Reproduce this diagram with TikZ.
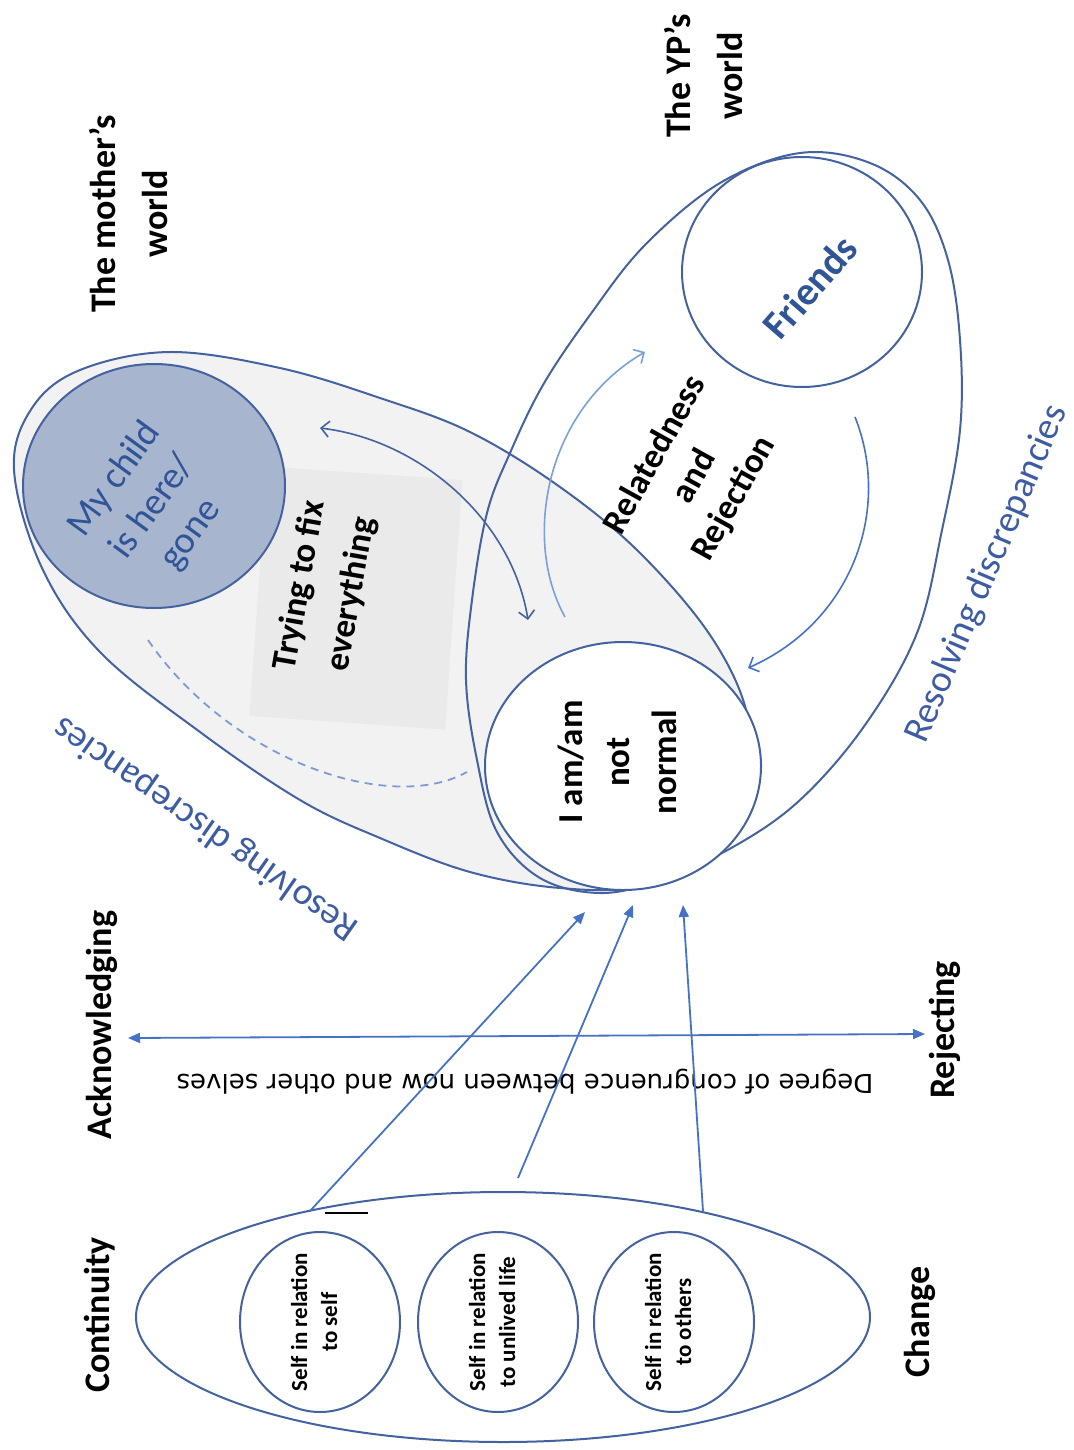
\documentclass[tikz,border=0pt]{standalone}
\usepackage{fontspec}
\setmainfont{Carlito}
\newfontfamily\dejavu{DejaVu Sans}
\usetikzlibrary{arrows.meta}
\definecolor{olc}{RGB}{68,98,160}
\definecolor{mfill}{RGB}{242,242,242}
\definecolor{boxfill}{RGB}{234,234,234}
\definecolor{childfill}{RGB}{168,181,206}
\definecolor{tblue}{RGB}{47,85,151}
\definecolor{rblue}{RGB}{61,92,164}
\definecolor{ablue}{RGB}{68,114,196}
\definecolor{lblue}{RGB}{120,160,220}
\definecolor{dblue}{RGB}{125,155,210}
\begin{document}
\begin{tikzpicture}[x=0.5pt,y=-0.5pt,
  outl/.style={draw=olc,line width=1pt},
  blbl/.style={font=\bfseries\fontsize{18}{26}\selectfont,align=center,inner sep=0pt,rotate=90},
  inlbl/.style={font=\bfseries\fontsize{17.5}{23.5}\selectfont,align=center,inner sep=0pt},
  selflbl/.style={font=\bfseries\fontsize{11.5}{15}\selectfont,align=center,inner sep=0pt,rotate=90},
  resolv/.style={font=\fontsize{19}{23}\selectfont,text=rblue,inner sep=0pt},
  barb/.style={draw=olc,line width=0.8pt},
  tri/.style={draw=ablue,line width=0.9pt},
  tip/.tip={Triangle[length=6pt,width=5pt]},
  vtip/.tip={Straight Barb[length=4pt,width=8pt]}]
\useasboundingbox (0,0) rectangle (1074,1450);

% ---------- the mother's world ----------
\draw[outl,fill=mfill] plot[smooth cycle,tension=0.6] coordinates {
 (14,470) (32,408) (80,370) (170,352) (280,368) (380,398) (470,432)
 (560,487) (640,553) (712,638) (748,718) (745,795) (705,850) (640,886)
 (560,888) (470,872) (380,838) (300,800) (200,732) (100,652) (42,568)};

\node[fill=boxfill,minimum width=125pt,minimum height=98pt,rotate=86,inner sep=0pt] (tbox) at (356,598) {};

% ---------- the YP's world ----------
\draw[outl] plot[smooth cycle,tension=0.6] coordinates {
 (800,153) (870,163) (920,200) (948,260) (960,340) (960,430) (942,530)
 (917,633) (865,725) (800,800) (733,847) (660,880) (600,893) (540,878)
 (497,832) (477,760) (466,680) (472,600) (487,513) (510,453) (543,385)
 (590,315) (645,245) (720,183)};

% ---------- circles ----------
\draw[outl,fill=childfill] (154,486) ellipse [x radius=131, y radius=122];
\draw[outl,fill=white] (802,272) ellipse [x radius=120, y radius=115];
\draw[outl,fill=white] (623,766) ellipse [x radius=138, y radius=124];

% ---------- texts ----------
\node[blbl] (mw) at (129,214) {The mother’s\\world};
\node[blbl] (yw) at (704,76) {The YP’s\\world};
\node[blbl] (ack) at (102,1025) {Acknowledging};
\node[blbl] (rej) at (945,1030) {Rejecting};
\node[blbl] (cont) at (100,1315) {Continuity};
\node[blbl] (chg) at (920,1322) {Change};

\node[font=\fontsize{19}{23.5}\selectfont,text=tblue,align=center,inner sep=0pt,rotate=54] (child) at (153,507) {My child\\is here/\\gone};
\node[font=\bfseries\fontsize{17.5}{26}\selectfont,align=center,inner sep=0pt,rotate=80] (fix) at (326,590) {Trying to fix\\everything};
\node[inlbl,rotate=90] (iam) at (617,762) {I am/am\\not\\normal};
\node[font=\bfseries\fontsize{17.5}{22.5}\selectfont,align=center,inner sep=0pt,rotate=61] (rel) at (695,477) {Relatedness\\and\\Rejection};
\node[font=\bfseries\fontsize{20}{24}\selectfont,text=tblue,inner sep=0pt,rotate=49] (fr) at (810,287) {Friends};

\node[resolv,rotate=145] (resL) at (206,828) {Resolving discrepancies};
\node[resolv,rotate=67] (resR) at (987,574) {Resolving discrepancies};

\node[font=\dejavu\fontsize{13}{15}\selectfont,inner sep=0pt,rotate=180] (deg) at (525,1082) {Degree of congruence between now and other selves};

% ---------- curved arrows ----------
\coordinate (fxA) at (320,428);
\coordinate (fxB) at (528,620);
\draw[barb,{vtip}-{vtip}] (fxA) .. controls (420,440) and (512,520) .. (fxB);

\coordinate (rlA) at (565,617);
\coordinate (rlB) at (645,352);
\draw[draw=lblue,line width=0.8pt,-{vtip}] (rlA) .. controls (522,540) and (545,410) .. (rlB);

\coordinate (frA) at (855,417);
\coordinate (frB) at (748,668);
\draw[barb,draw=ablue,-{vtip}] (frA) .. controls (892,510) and (852,622) .. (frB);

\coordinate (dsA) at (148,640);
\coordinate (dsB) at (467,772);
\draw[draw=dblue,line width=0.9pt,dash pattern=on 4pt off 3pt] (dsA) .. controls (230,760) and (390,815) .. (dsB);

% ---------- bottom: other selves ----------
\draw[outl] (503,1317) ellipse [x radius=367, y radius=125];
\draw[outl] (320,1322) ellipse [x radius=80, y radius=90];
\draw[outl] (498,1322) ellipse [x radius=80, y radius=90];
\draw[outl] (674,1322) ellipse [x radius=80, y radius=90];
\node[selflbl] (s1t) at (314,1322) {Self in relation\\to self};
\node[selflbl] (s2t) at (492,1322) {Self in relation\\to unlived life};
\node[selflbl] (s3t) at (668,1322) {Self in relation\\to others};
\coordinate (mk1) at (325,1213);
\coordinate (mk2) at (368,1213);
\draw[black,line width=1pt] (mk1) -- (mk2);

% axis
\coordinate (axL) at (128,1038);
\coordinate (axR) at (925,1034);
\draw[tri,{tip}-{tip}] (axL) -- (axR);

% arrows to I am circle
\coordinate (b1) at (310,1211);
\coordinate (t1) at (585,912);
\coordinate (b2) at (518,1178);
\coordinate (t2) at (633,905);
\coordinate (b3) at (703,1211);
\coordinate (t3) at (683,905);
\draw[tri,-{tip}] (b1) -- (t1);
\draw[tri,-{tip}] (b2) -- (t2);
\draw[tri,-{tip}] (b3) -- (t3);
\end{tikzpicture}
\end{document}
